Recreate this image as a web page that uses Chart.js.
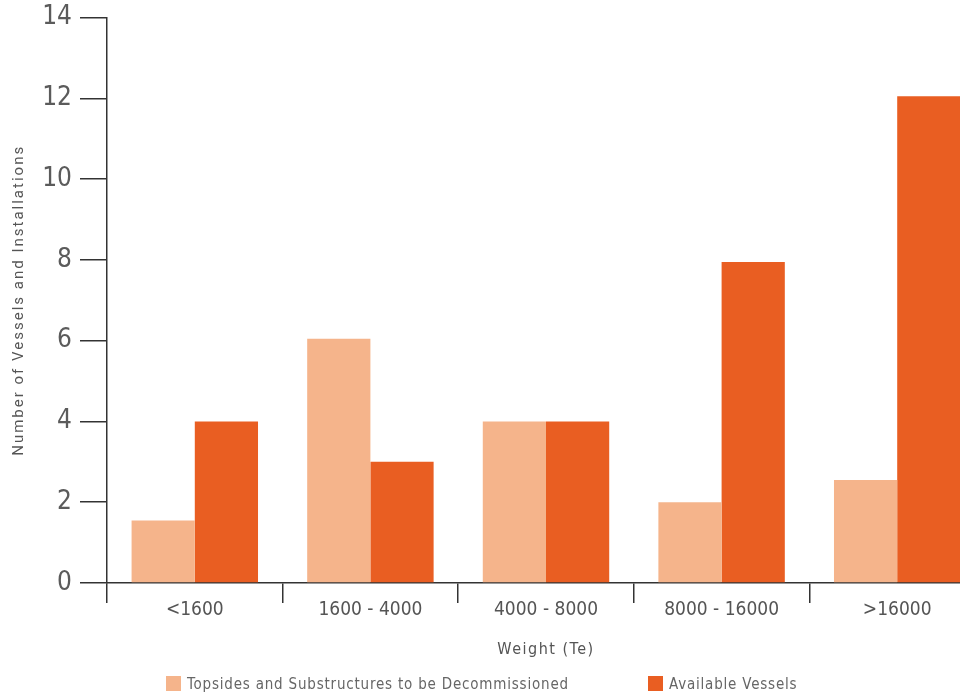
<!DOCTYPE html>
<html>
<head>
<meta charset="utf-8">
<script src="https://cdn.jsdelivr.net/npm/chart.js@4.4.1/dist/chart.umd.min.js"></script>
<style>
    html, body { margin: 0; padding: 0; background: #fff; overflow: hidden; }
    #wrap { position: relative; width: 985px; height: 695px; }
    #chart { position: absolute; top: -6px; left: 0; }
    .legend-item { position: absolute; top: 676px; font-family: "DejaVu Sans Condensed", "Liberation Sans Narrow", sans-serif; font-size: 15px; color: #666; letter-spacing: 0.8px; line-height: 15px; white-space: nowrap; }
    .legend-item .box { display: inline-block; width: 15px; height: 15px; vertical-align: -2px; margin-right: 6px; }
</style>
</head>
<body>
<div id="wrap">
    <canvas id="chart" width="985" height="701"></canvas>
    <div id="legend"></div>
</div>
<script>
// Decommissioning weights vs vessel capacity
const categories = ['<1600', '1600 - 4000', '4000 - 8000', '8000 - 16000', '>16000'];
const decommissioned = [1.55, 6.05, 4, 2, 2.55];
const vessels = [4, 3, 4, 7.95, 12.05];
const seriesNames = ['Topsides and Substructures to be Decommissioned', 'Available Vessels'];
const seriesColors = ['#f5b48b', '#e95e22'];
const legendLeft = [166, 648];

const condensed = '"DejaVu Sans Condensed", "Liberation Sans Narrow", sans-serif';

// spread out axis titles a little, like the original artwork
const titleSpacing = {
    id: 'titleSpacing',
    afterUpdate(chart) {
        Object.values(chart.scales).forEach(s => {
            if (s._spaced) return;
            const orig = s.drawTitle;
            s.drawTitle = function () {
                this.ctx.save();
                this.ctx.letterSpacing = this.axis === 'y' ? '2px' : '1.5px';
                orig.apply(this, arguments);
                this.ctx.restore();
            };
            s._spaced = true;
        });
    }
};

new Chart(document.getElementById('chart'), {
    type: 'bar',
    data: {
        labels: categories,
        datasets: [
            { label: seriesNames[0], data: decommissioned, backgroundColor: seriesColors[0] },
            { label: seriesNames[1], data: vessels, backgroundColor: seriesColors[1] }
        ]
    },
    options: {
        responsive: false,
        animation: false,
        categoryPercentage: 0.72,
        barPercentage: 1.0,
        layout: { padding: { top: 0, left: 10, right: 0, bottom: 36 } },
        plugins: { legend: { display: false }, tooltip: { enabled: false } },
        scales: {
            x: {
                grid: { drawOnChartArea: false, offset: true, tickLength: 20, color: '#333', lineWidth: 1.5 },
                border: { color: '#333', width: 1.5 },
                ticks: { font: { family: condensed, size: 19 }, color: '#555', padding: -4 },
                title: { display: true, text: 'Weight (Te)', font: { family: condensed, size: 16 }, color: '#555', padding: { top: 22, bottom: 0 } }
            },
            y: {
                min: 0,
                max: 14,
                afterFit: s => { s.width = 97; },
                grid: { drawOnChartArea: false, tickLength: 27, color: '#333', lineWidth: 1.5 },
                border: { color: '#333', width: 1.5 },
                ticks: { stepSize: 2, font: { family: condensed, size: 26 }, color: '#5b5b5b', padding: 8 },
                title: { display: true, text: 'Number of Vessels and Installations', font: { family: 'Roboto', size: 15 }, color: '#555', padding: 0 }
            }
        }
    },
    plugins: [titleSpacing]
});

document.getElementById('legend').innerHTML = seriesNames.map((n, i) =>
    `<div class="legend-item" style="left:${legendLeft[i]}px"><span class="box" style="background:${seriesColors[i]}"></span>${n}</div>`
).join('');
</script>
</body>
</html>
